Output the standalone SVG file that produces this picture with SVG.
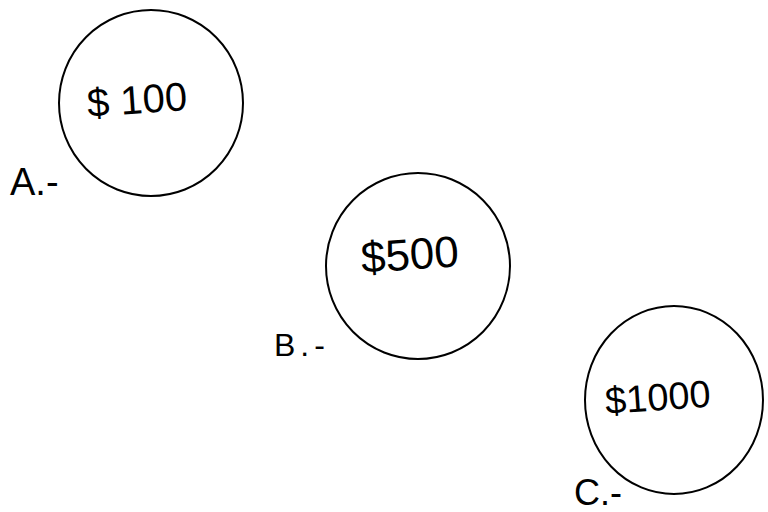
<svg xmlns="http://www.w3.org/2000/svg" width="768" height="512" viewBox="0 0 768 512">
<style>
.c{fill:none;stroke:#000;stroke-width:2}
.t{font-family:"Liberation Sans",Arial,sans-serif;fill:#000}
</style>
<rect width="768" height="512" fill="#fff"/>
<g id="nodeA">
<ellipse class="c" cx="151" cy="103" rx="92" ry="93"/>
<text class="t" x="88" y="117" font-size="40" transform="rotate(-4 88 117)">$ 100</text>
<text class="t" x="10" y="195" font-size="38">A.-</text>
</g>
<g id="nodeB">
<ellipse class="c" cx="418" cy="266" rx="92" ry="93"/>
<text class="t" x="362" y="273" font-size="44" transform="rotate(-4 362 273)">$500</text>
<text class="t" x="274" y="356" font-size="32" letter-spacing="5">B.-</text>
</g>
<g id="nodeC">
<ellipse class="c" cx="674" cy="400" rx="89" ry="94"/>
<text class="t" x="606" y="414" font-size="38" transform="rotate(-4 606 414)">$1000</text>
<text class="t" x="574" y="505" font-size="36">C.-</text>
</g>
<g id="connectors"/>
</svg>
